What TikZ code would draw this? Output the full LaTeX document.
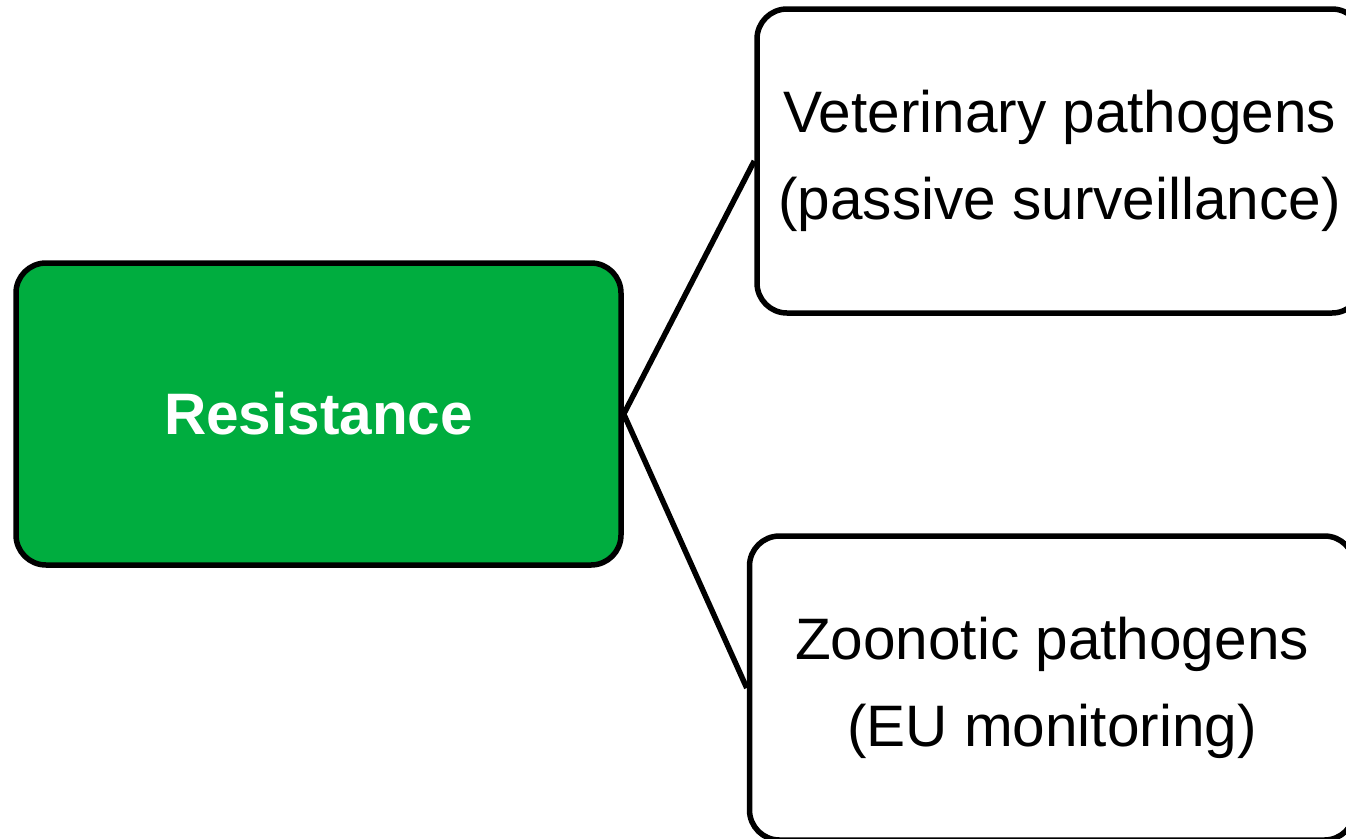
\documentclass[tikz,border=0pt]{standalone}
\usepackage{fontspec}
\setmainfont{Liberation Sans}
\definecolor{resgreen}{HTML}{00AD3F}
\begin{document}
\begin{tikzpicture}[x=1pt,y=-1pt,
  box/.style={draw, line width=5.5pt, rounded corners=30pt, minimum width=605pt,
    minimum height=302pt, align=center, font=\fontsize{58.5}{87}\selectfont}]
% fix the page size
\useasboundingbox (0,0) rectangle (1346,838);
\clip (0,0) rectangle (1346,838);

% draw the main box
\node[box, fill=resgreen, text=white, font=\fontsize{58.5}{87}\selectfont\bfseries] (res) at (318.5,414) {Resistance};

% draw the two branches
\node[box, minimum height=304pt] (vet) at (1059.5,161) {Veterinary pathogens\\(passive surveillance)};
\node[box, minimum height=304pt] (zoo) at (1052,688) {Zoonotic pathogens\\(EU monitoring)};

% draw lines to the branches
\draw[line width=5.5pt] (res.east) -- (vet.west);
\draw[line width=5.5pt] (res.east) -- (zoo.west);
\end{tikzpicture}
\end{document}
